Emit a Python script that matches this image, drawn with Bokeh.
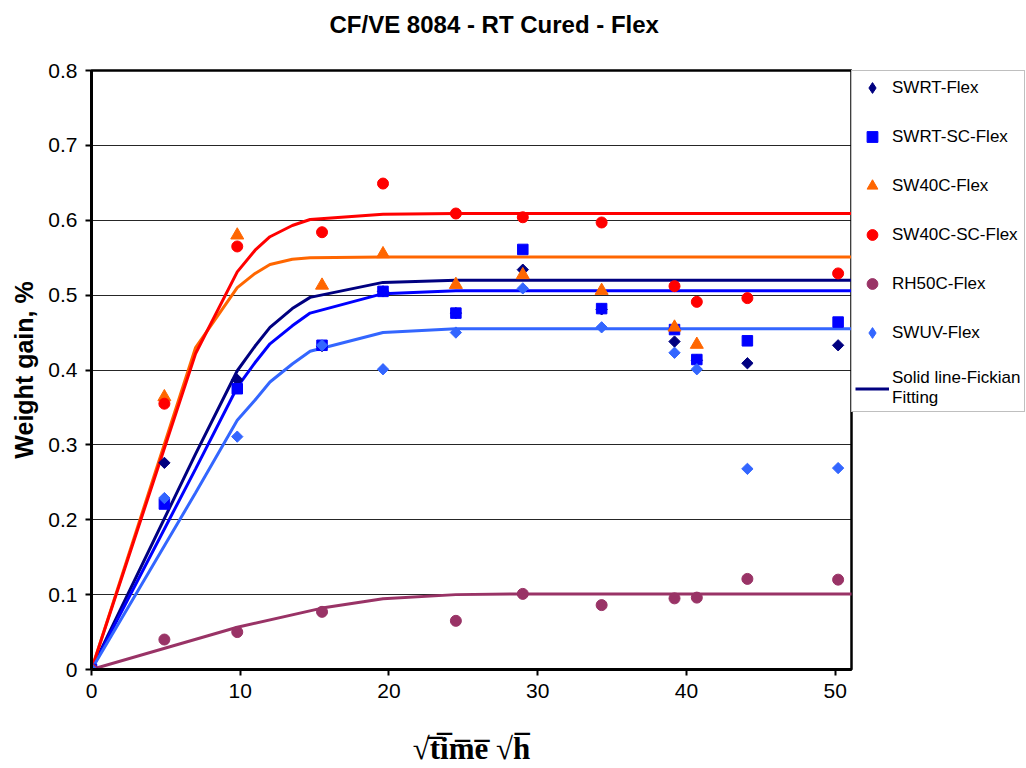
from bokeh.plotting import figure
from bokeh.models import Range1d, FixedTicker, Legend, LegendItem, Title
from bokeh.embed import file_html
from bokeh.resources import INLINE
import math

nan = float("nan")

# ---- measured data (x = sqrt(time), sqrt(h)) ----
SQRT_TIME = [0, 4.9, 9.8, 15.5, 19.6, 24.5, 29.0, 34.3, 39.2, 40.7, 44.1, 50.2]
SWRT_FLEX = [0, 0.276, 0.387, 0.432, 0.505, 0.476, 0.534, 0.481, 0.438, 0.413, 0.409, 0.433]
SWRT_SC_FLEX = [0, 0.221, 0.375, 0.433, 0.505, 0.476, 0.561, 0.482, 0.454, 0.414, 0.439, 0.464]
SW40C_FLEX = [0, 0.364, 0.580, 0.513, 0.555, 0.514, 0.527, 0.506, 0.457, 0.434, nan, nan]
SW40C_SC_FLEX = [0, 0.355, 0.565, 0.584, 0.649, 0.609, 0.604, 0.597, 0.512, 0.491, 0.496, 0.529]
RH50C_FLEX = [0, 0.040, 0.050, 0.077, nan, 0.065, 0.101, 0.086, 0.095, 0.096, 0.121, 0.120]
SWUV_FLEX = [0, 0.229, 0.311, 0.433, 0.401, 0.450, 0.509, 0.457, 0.423, 0.401, 0.268, 0.269]

# ---- Fickian fitting curves ----
FIT_X = [0, 7.0, 9.8, 11.0, 12.0, 13.5, 14.7, 19.6, 24.5, 29.0, 34.3, 39.2, 44.1, 51.2]
FIT_SWRT = [0, 0.288, 0.399, 0.432, 0.457, 0.482, 0.497, 0.517, 0.520, 0.520, 0.520, 0.520, 0.520, 0.520]
FIT_SWRT_SC = [0, 0.268, 0.377, 0.410, 0.435, 0.459, 0.476, 0.502, 0.506, 0.506, 0.506, 0.506, 0.506, 0.506]
FIT_SW40C = [0, 0.430, 0.510, 0.529, 0.541, 0.548, 0.550, 0.551, 0.551, 0.551, 0.551, 0.551, 0.551, 0.551]
FIT_SW40C_SC = [0, 0.422, 0.531, 0.560, 0.578, 0.593, 0.601, 0.608, 0.609, 0.609, 0.609, 0.609, 0.609, 0.609]
FIT_SWUV = [0, 0.236, 0.333, 0.360, 0.384, 0.408, 0.425, 0.450, 0.455, 0.455, 0.455, 0.455, 0.455, 0.455]
FIT_RH_X = [0, 9.8, 15.5, 19.6, 24.5, 29.0, 34.3, 39.2, 44.1, 51.2]
FIT_RH50C = [0, 0.0565, 0.082, 0.0946, 0.100, 0.101, 0.101, 0.101, 0.101, 0.101]

SERIES_NAMES = ["SWRT-Flex", "SWRT-SC-Flex", "SW40C-Flex", "SW40C-SC-Flex", "RH50C-Flex", "SWUV-Flex"]
FIT_LABEL = "Solid line-Fickian\nFitting"

X_TICKS = [0, 10, 20, 30, 40, 50]
Y_TICKS = [0, 0.1, 0.2, 0.3, 0.4, 0.5, 0.6, 0.7, 0.8]
Y_TICK_LABELS = ["0", "0.1", "0.2", "0.3", "0.4", "0.5", "0.6", "0.7", "0.8"]

TITLE = "CF/VE 8084 - RT Cured - Flex"
Y_LABEL = "Weight gain, %"
X_LABEL = "\u221at\u0305i\u0305m\u0305e\u0305 \u221ah\u0305"

NAVY = "#000080"
BLUE = "#0000FF"
ORANGE = "#FF6600"
RED = "#FF0000"
PLUM = "#993366"
LBLUE = "#3366FF"

SANS = "Liberation Sans"
SERIF = "Liberation Serif"

X_MAX = 51.1
p = figure(frame_width=760, height=768, x_range=Range1d(0, X_MAX), y_range=Range1d(0, 0.8),
           output_backend="svg", toolbar_location=None,
           min_border_left=91, min_border_right=0, min_border_top=70, min_border_bottom=99)
p.background_fill_color = "white"
p.border_fill_color = "white"
p.outline_line_color = "black"
p.outline_line_width = 2.5

# the trailing empty line lifts the title towards the top of the page
p.title = Title(text=TITLE + "\n", align="left", offset=238, standoff=8, vertical_align="top",
                text_font=SANS, text_font_size="24px", text_font_style="bold", text_color="black")

# axes
p.xaxis.ticker = FixedTicker(ticks=X_TICKS)
p.yaxis.ticker = FixedTicker(ticks=Y_TICKS)
p.yaxis.major_label_overrides = {t: l for t, l in zip(Y_TICKS, Y_TICK_LABELS)}
for ax in (p.xaxis[0], p.yaxis[0]):
    ax.axis_line_color = "black"
    ax.axis_line_width = 3
    ax.major_tick_line_color = "black"
    ax.major_tick_line_width = 2
    ax.major_tick_out = 6
    ax.major_tick_in = 0
    ax.minor_tick_line_color = None
    ax.major_label_text_font = SANS
    ax.major_label_text_font_size = "21px"
    ax.major_label_text_color = "black"
    ax.major_label_standoff = 8
p.yaxis.axis_label = Y_LABEL
p.yaxis.axis_label_text_font = SANS
p.yaxis.axis_label_text_font_size = "25px"
p.yaxis.axis_label_text_font_style = "bold"
p.yaxis.axis_label_text_color = "black"
p.yaxis.axis_label_standoff = 7

p.xaxis.axis_label = X_LABEL
p.xaxis.axis_label_text_font = SERIF
p.xaxis.axis_label_text_font_size = "31px"
p.xaxis.axis_label_text_font_style = "bold"
p.xaxis.axis_label_text_color = "black"
p.xaxis.axis_label_standoff = 30

p.xgrid.grid_line_color = None
p.ygrid.grid_line_color = "black"
p.ygrid.grid_line_width = 1
p.ygrid.grid_line_alpha = 0.85

# fit lines
l_navy = p.line(FIT_X, FIT_SWRT, line_color=NAVY, line_width=3)
p.line(FIT_X, FIT_SWRT_SC, line_color=BLUE, line_width=3)
p.line(FIT_X, FIT_SW40C, line_color=ORANGE, line_width=3)
p.line(FIT_X, FIT_SW40C_SC, line_color=RED, line_width=3)
p.line(FIT_RH_X, FIT_RH50C, line_color=PLUM, line_width=3)
p.line(FIT_X, FIT_SWUV, line_color=LBLUE, line_width=3)

# markers (diamond series: a narrow diamond underneath, fully covered by the
# rotated square, supplies the legend glyph)
ang = math.pi / 4
lg1 = p.scatter(SQRT_TIME, SWRT_FLEX, marker="diamond", size=9, color=NAVY)
r1 = p.scatter(SQRT_TIME, SWRT_FLEX, marker="square", size=8, angle=ang, color=NAVY)
r2 = p.scatter(SQRT_TIME, SWRT_SC_FLEX, marker="square", size=10.5, color=BLUE)
r3 = p.scatter(SQRT_TIME, SW40C_FLEX, marker="triangle", size=13, color=ORANGE)
r4 = p.scatter(SQRT_TIME, SW40C_SC_FLEX, marker="circle", size=11, color=RED)
r5 = p.scatter(SQRT_TIME, RH50C_FLEX, marker="circle", size=11, color=PLUM)
lg6 = p.scatter(SQRT_TIME, SWUV_FLEX, marker="diamond", size=9, color=LBLUE)
r6 = p.scatter(SQRT_TIME, SWUV_FLEX, marker="square", size=8, angle=ang, color=LBLUE)

legend = Legend(items=[
    LegendItem(label=SERIES_NAMES[0], renderers=[lg1]),
    LegendItem(label=SERIES_NAMES[1], renderers=[r2]),
    LegendItem(label=SERIES_NAMES[2], renderers=[r3]),
    LegendItem(label=SERIES_NAMES[3], renderers=[r4]),
    LegendItem(label=SERIES_NAMES[4], renderers=[r5]),
    LegendItem(label=SERIES_NAMES[5], renderers=[lg6]),
    LegendItem(label=FIT_LABEL, renderers=[l_navy]),
], location="top_left")
legend.label_text_font = SANS
legend.label_text_font_size = "17px"
legend.label_text_color = "black"
legend.glyph_width = 34
legend.glyph_height = 27
legend.label_height = 26
legend.label_standoff = 3
legend.padding = 3
legend.spacing = 22
legend.margin = 0
legend.border_line_color = "#808080"
legend.border_line_width = 1
legend.background_fill_color = "white"
legend.background_fill_alpha = 1
p.add_layout(legend, "right")

open("out.html", "w").write(file_html(p, INLINE))
